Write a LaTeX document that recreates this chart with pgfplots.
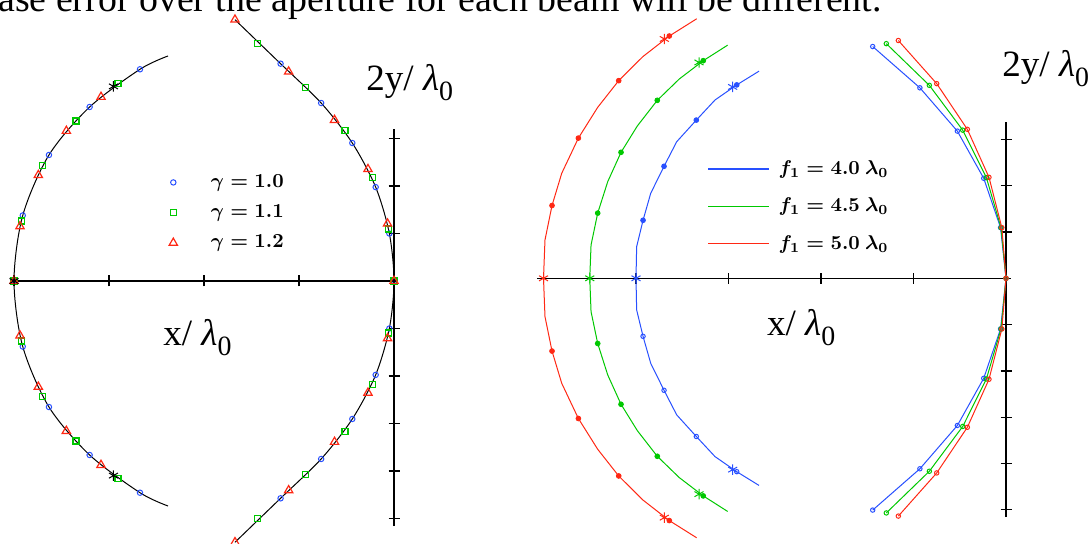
\documentclass[border=0pt]{standalone}
\usepackage{fontspec}
\setmainfont{Liberation Serif}
\usepackage{pgfplots}
\pgfplotsset{compat=1.18}

\definecolor{pblue}{RGB}{40,80,255}
\definecolor{pgreen}{RGB}{0,200,0}
\definecolor{pred}{RGB}{255,40,20}

% lambda_0 in the running text font
\newcommand{\lam}{\textit{λ}\raisebox{-5bp}{\fontsize{14}{15}\selectfont 0}}

\pgfplotsset{
  panel/.style={
    axis lines=middle,
    axis line style={-, line width=0.65bp, black},
    every inner x axis line/.append style={-},
    every inner y axis line/.append style={-},
    tick align=center,
    major tick length=5.5bp,
    tick style={black, line width=0.65bp},
    xticklabel={\relax}, yticklabel={\relax},
    clip=false,
    legend cell align=left,
  },
  lensline/.style={black, line width=0.5bp, smooth, mark=none, forget plot},
  g10/.style={pblue, only marks, mark=o, mark size=1.35bp, line width=0.5bp},
  g11/.style={pgreen, only marks, mark=square, mark size=1.5bp, line width=0.6bp},
  g12/.style={pred, only marks, mark=triangle, mark size=2.4bp, line width=0.6bp},
  arc/.style={line width=0.5bp, mark=none},
  dot/.style={only marks, mark=*, mark size=1.2bp, forget plot},
  odot/.style={only marks, mark=o, mark size=1.1bp, line width=0.5bp, forget plot},
  star/.style={only marks, mark=asterisk, mark size=2.6bp, line width=0.5bp, forget plot},
  feed/.style={line width=0.5bp, mark=o, mark size=1.1bp, forget plot},
}

\begin{document}
\begin{tikzpicture}
\useasboundingbox (0,0) rectangle (545bp,272bp);

% ---------------- left panel: lens profiles for three values of gamma
\begin{axis}[panel,
  at={(197bp,131.5bp)}, anchor=origin,
  x=47.5bp, y=23.75bp,
  xmin=-4.02, xmax=0.03, ymin=-5.16, ymax=3.2,
  xtick={-4,-3,-2,-1,0}, ytick={-5,-4,-3,-2,-1,0,1,2,3},
  legend style={draw=none, fill=none, at={(axis description cs:0.4008,0.8864)},
    anchor=north west, row sep=7.2bp, column sep=0pt, inner sep=0pt,
    font=\fontsize{10.3}{12}\selectfont\boldmath,
    nodes={inner sep=0pt, outer sep=0pt}},
  legend image code/.code={\path (-3bp,0bp) (18.5bp,0bp); \draw[#1] plot coordinates {(0bp,0bp)};},
]
\addplot[lensline] coordinates {
  (-2.379,4.737)(-2.674,4.457)(-3.204,3.663)(-3.632,2.653)(-3.908,1.38)(-4.0,0)
  (-3.908,-1.38)(-3.632,-2.653)(-3.204,-3.663)(-2.674,-4.457)(-2.379,-4.737)};
\addplot[lensline] coordinates {
  (-1.674,5.501)(-1.194,4.575)(-0.767,3.747)(-0.439,2.905)(-0.193,1.976)(-0.049,1.0)(0,0)
  (-0.049,-1.0)(-0.193,-1.976)(-0.439,-2.905)(-0.767,-3.747)(-1.194,-4.575)(-1.674,-5.501)};

\addplot[g10] coordinates {
  (-4,0)(-3.908,1.38)(-3.632,2.653)(-3.204,3.663)(-2.674,4.457)
  (-3.908,-1.38)(-3.632,-2.653)(-3.204,-3.663)(-2.674,-4.457)
  (0,0)(-0.049,1.0)(-0.193,1.976)(-0.439,2.905)(-0.767,3.747)(-1.194,4.575)
  (-0.049,-1.0)(-0.193,-1.976)(-0.439,-2.905)(-0.767,-3.747)(-1.194,-4.575)};
\addlegendentry{$\gamma = 1.0$}
\addplot[g11] coordinates {
  (-4,0)(-3.918,1.263)(-3.698,2.424)(-3.347,3.368)(-2.905,4.165)
  (-3.918,-1.263)(-3.698,-2.424)(-3.347,-3.368)(-2.905,-4.165)
  (0,0)(-0.06,1.095)(-0.228,2.172)(-0.516,3.168)(-0.931,4.074)(-1.437,4.996)
  (-0.06,-1.095)(-0.228,-2.172)(-0.516,-3.168)(-0.931,-4.074)(-1.437,-4.996)};
\addlegendentry{$\gamma = 1.1$}
\addplot[g12] coordinates {
  (-4,0)(-3.937,1.15)(-3.744,2.228)(-3.449,3.158)(-3.084,3.874)
  (-3.937,-1.15)(-3.744,-2.228)(-3.449,-3.158)(-3.084,-3.874)
  (0,0)(-0.068,1.207)(-0.274,2.354)(-0.626,3.389)(-1.109,4.407)(-1.674,5.501)
  (-0.068,-1.207)(-0.274,-2.354)(-0.626,-3.389)(-1.109,-4.407)(-1.674,-5.501)};
\addlegendentry{$\gamma = 1.2$}
\addplot[star, black] coordinates {(-4,0)(-2.953,4.097)(-2.953,-4.097)};
\end{axis}

% ---------------- right panel: three focal lengths
\begin{axis}[panel,
  at={(503bp,132.85bp)}, anchor=origin,
  x=46.25bp, y=23.15bp,
  xmin=-5.07, xmax=0.05, ymin=-5.156, ymax=3.38,
  xtick={-5,-4,-3,-2,-1,0}, ytick={-5,-4,-3,-2,-1,0,1,2,3},
  legend style={draw=none, fill=none, at={(axis description cs:0.359,0.9023)},
    anchor=north west, row sep=10.2bp, column sep=0pt, inner sep=0pt,
    font=\fontsize{10.3}{12}\selectfont\boldmath,
    nodes={inner sep=0pt, outer sep=0pt}},
  legend image code/.code={\draw[#1, line width=0.75bp] (0bp,0bp) -- (30.5bp,0bp); \path (35bp,0bp);},
]
% arcs
\addplot[arc, color=pblue] coordinates {
  (-2.670,4.474)(-2.911,4.177)(-3.146,3.851)(-3.348,3.417)(-3.560,2.950)(-3.697,2.419)
  (-3.841,1.836)(-3.924,1.253)(-3.993,0.683)(-4.0,0)(-3.993,-0.683)(-3.924,-1.253)
  (-3.841,-1.836)(-3.697,-2.419)(-3.560,-2.950)(-3.348,-3.417)(-3.146,-3.851)
  (-2.911,-4.177)(-2.670,-4.474)};
\addlegendentry{$f_1 = 4.0\ \lambda_0$}
\addplot[arc, color=pgreen] coordinates {
  (-3.009,5.036)(-3.273,4.700)(-3.532,4.305)(-3.770,3.844)(-3.986,3.289)(-4.162,2.721)
  (-4.306,2.086)(-4.414,1.408)(-4.486,0.72)(-4.5,0)(-4.486,-0.72)(-4.414,-1.408)
  (-4.306,-2.086)(-4.162,-2.721)(-3.986,-3.289)(-3.770,-3.844)(-3.532,-4.305)
  (-3.273,-4.700)(-3.009,-5.036)};
\addlegendentry{$f_1 = 4.5\ \lambda_0$}
\addplot[arc, color=pred] coordinates {
  (-3.344,5.605)(-3.640,5.233)(-3.927,4.786)(-4.187,4.269)(-4.414,3.693)(-4.623,3.028)
  (-4.803,2.268)(-4.908,1.572)(-4.984,0.827)(-5.0,0)(-4.984,-0.827)(-4.908,-1.572)
  (-4.803,-2.268)(-4.623,-3.028)(-4.414,-3.693)(-4.187,-4.269)(-3.927,-4.786)
  (-3.640,-5.233)(-3.344,-5.605)};
\addlegendentry{$f_1 = 5.0\ \lambda_0$}

\addplot[dot, pblue] coordinates {(-3.924,1.253)(-3.697,2.419)(-3.348,3.417)(-2.911,4.177)};
\addplot[odot, pblue] coordinates {(-3.924,-1.253)(-3.697,-2.419)(-3.348,-3.417)(-2.911,-4.177)};
\addplot[dot, pgreen] coordinates {
  (-3.273,4.700)(-3.770,3.844)(-4.162,2.721)(-4.414,1.408)
  (-3.273,-4.700)(-3.770,-3.844)(-4.162,-2.721)(-4.414,-1.408)};
\addplot[dot, pred] coordinates {
  (-3.640,5.233)(-4.187,4.269)(-4.623,3.028)(-4.908,1.572)
  (-3.640,-5.233)(-4.187,-4.269)(-4.623,-3.028)(-4.908,-1.572)};

\addplot[star, pblue] coordinates {(-4,0)(-2.955,4.133)(-2.955,-4.133)};
\addplot[star, pgreen] coordinates {(-4.5,0)(-3.319,4.662)(-3.319,-4.662)};
\addplot[star, pred] coordinates {(-5,0)(-3.694,5.169)(-3.694,-5.169)};

% feed-side curves
\addplot[feed, pblue] coordinates {
  (-1.441,5.006)(-0.931,4.114)(-0.526,3.179)(-0.241,2.160)(-0.059,1.094)(0,0)
  (-0.059,-1.094)(-0.241,-2.160)(-0.526,-3.179)(-0.931,-4.114)(-1.441,-5.006)};
\addplot[feed, pgreen] coordinates {
  (-1.294,5.068)(-0.829,4.168)(-0.468,3.200)(-0.212,2.174)(-0.054,1.094)(0,0)
  (-0.054,-1.094)(-0.212,-2.174)(-0.468,-3.200)(-0.829,-4.168)(-1.294,-5.068)};
\addplot[feed, pred] coordinates {
  (-1.164,5.136)(-0.749,4.204)(-0.418,3.218)(-0.184,2.181)(-0.045,1.094)(0,0)
  (-0.045,-1.094)(-0.184,-2.181)(-0.418,-3.218)(-0.749,-4.204)(-1.164,-5.136)};
\end{axis}

% axis captions and the running text line above
\begin{scope}[every node/.style={inner sep=0pt, font=\fontsize{18.6}{22}\selectfont}]
\node[anchor=base west] at (183bp,226.5bp) {2y/ \lam};
\node[anchor=base west] at (501bp,233.65bp) {2y/ \lam};
\node[anchor=base west] at (81.5bp,99.15bp) {x/ \lam};
\node[anchor=base west] at (383.35bp,104.35bp) {x/ \lam};
\node[anchor=base east, font=\fontsize{19}{22}\selectfont] at (441bp,266bp)
  {phase error over the aperture for each beam will be different.};
\end{scope}
\end{tikzpicture}
\end{document}
